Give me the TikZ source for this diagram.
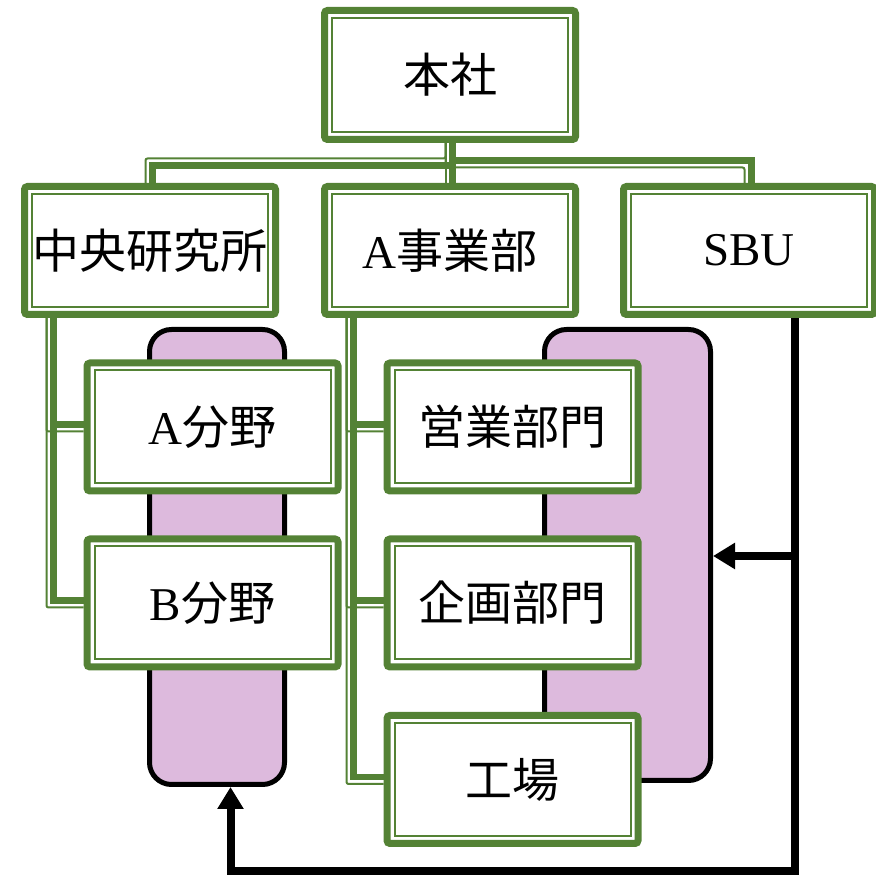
\documentclass[tikz,border=0pt]{standalone}
\usepackage{fontspec}
\setmainfont{Liberation Serif}
\newfontfamily\jp{Noto Sans CJK JP}
\usetikzlibrary{calc,arrows.meta}
\definecolor{orggreen}{RGB}{84,130,53}
\definecolor{unitfill}{RGB}{221,186,221}
\pgfdeclarelayer{back}
\pgfsetlayers{back,main}
\tikzset{
  orgbox/.style={draw=orggreen, line width=7pt, fill=white, rounded corners=3pt,
    minimum width=251pt, minimum height=128pt, inner sep=0pt,
    font=\fontsize{47}{50}\selectfont,
    path picture={\draw[orggreen, line width=2pt, sharp corners]
      ([shift={(7.5pt,-7.5pt)}]path picture bounding box.north west) rectangle
      ([shift={(-7.5pt,7.5pt)}]path picture bounding box.south east);}},
  gthick/.style={draw=orggreen, line width=6.5pt},
  gthin/.style={draw=orggreen, line width=2pt, rounded corners=2pt},
  unit/.style={draw=black, line width=5pt, fill=unitfill, rounded corners=22pt, inner sep=0pt},
  flow/.style={draw=black, line width=8pt},
  tip/.style={-{Triangle[length=22pt,width=25pt]}}
}
\begin{document}
\begin{tikzpicture}[x=1pt,y=1pt]
\useasboundingbox (0,0) rectangle (876,875);

% organisation boxes
\node[orgbox, minimum height=129pt] (hq) at (450,800) {\jp 本社};
\node[orgbox] (chuo) at (150,624.5) {\jp 中央研究所};
\node[orgbox] (jig)  at (450,624.5) {A\jp 事業部};
\node[orgbox] (sbu)  at (749,624.5) {SBU};
\node[orgbox] (bunA) at (212.5,448) {A\jp 分野};
\node[orgbox] (bunB) at (212.5,272) {B\jp 分野};
\node[orgbox] (eig)  at (512.5,448) {\jp 営業部門};
\node[orgbox] (kik)  at (512.5,272) {\jp 企画部門};
\node[orgbox] (koj)  at (512.5,95.5) {\jp 工場};

\begin{pgfonlayer}{back}
  % grouping panels
  \node[unit, minimum width=135pt, minimum height=455pt] (pL) at (217,318) {};
  \node[unit, minimum width=166pt, minimum height=451pt] (pR) at (627.5,320) {};

  % head office to the three units (thick-thin lines)
  \draw[gthick] ($(hq.south)+(2.5,0)$) -- ++(0,-22.5) -| ($(chuo.north)+(2.5,0)$);
  \draw[gthin]  ($(hq.south)+(-4.5,0)$) -- ++(0,-15.5) -| ($(chuo.north)+(-4.5,0)$);
  \draw[gthick] ($(hq.south)+(2.5,0)$) -- ++(0,-17.5) -| ($(sbu.north)+(2.5,0)$);
  \draw[gthin]  ($(hq.south)+(-4.5,0)$) -- ++(0,-24.5) -| ($(sbu.north)+(-4.5,0)$);
  \draw[gthick] ($(hq.south)+(2.5,0)$) -- ($(jig.north)+(2.5,0)$);
  \draw[gthin]  ($(hq.south)+(-4.5,0)$) -- ($(jig.north)+(-4.5,0)$);

  % hanging branches
  \foreach \p/\c in {chuo/bunA, chuo/bunB, jig/eig, jig/kik, jig/koj}{
    \draw[gthick] ($(\p.south west)+(32.5,0)$) |- ($(\c.west)+(0,2.5)$);
    \draw[gthin]  ($(\p.south west)+(25.5,0)$) |- ($(\c.west)+(0,-4.5)$);
  }

  % SBU feedback lines
  \coordinate (corner) at (794.5,3.5);
  \coordinate (fork) at (794.5,319);
  \draw[flow,tip] ($(sbu.south)+(45.5,4)$) -- (corner) -| ($(pL.south)+(13.5,0)$);
  \draw[flow,tip] (fork) -- (fork -| pR.east);
\end{pgfonlayer}
\end{tikzpicture}
\end{document}
